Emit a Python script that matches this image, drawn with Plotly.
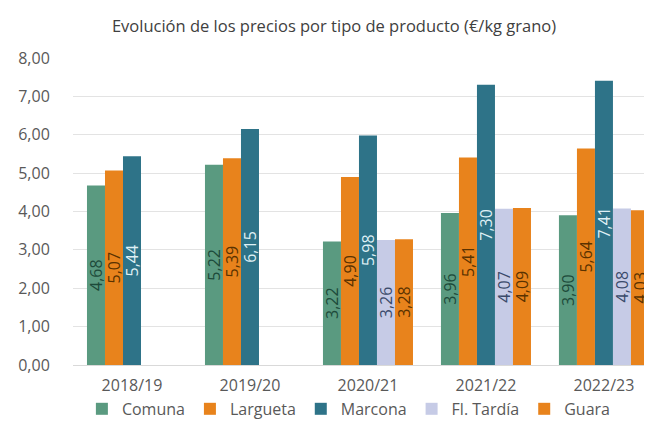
import plotly.graph_objects as go

categories = ["2018/19", "2019/20", "2020/21", "2021/22", "2022/23"]
comuna = [4.68, 5.22, 3.22, 3.96, 3.90]
largueta = [5.07, 5.39, 4.90, 5.41, 5.64]
marcona = [5.44, 6.15, 5.98, 7.30, 7.41]
fl_tardia = [None, None, 3.26, 4.07, 4.08]
guara = [None, None, 3.28, 4.09, 4.03]

series = [
    ("Comuna", comuna, "#5a9a80", "#1d4a3a"),
    ("Largueta", largueta, "#e8831c", "#5a3200"),
    ("Marcona", marcona, "#2e7388", "#dff0f5"),
    ("Fl. Tardía", fl_tardia, "#c6cbe6", "#3a4a6a"),
    ("Guara", guara, "#e8831c", "#5a3200"),
]

FONT = "Open Sans"
fig = go.Figure()
for name, vals, color, tcol in series:
    fig.add_trace(go.Bar(
        name=name, x=categories, y=vals,
        marker=dict(color=color, line=dict(width=0)),
        texttemplate="%{y:.2f}", textposition="inside",
        insidetextanchor="middle", textangle=-90,
        textfont=dict(family=FONT, size=16, color=tcol),
        constraintext="none",
    ))

fig.update_layout(
    width=652, height=428,
    margin=dict(l=65, r=0, t=50, b=71),
    paper_bgcolor="white", plot_bgcolor="white",
    separators=",.",
    barmode="group", bargap=0.237, bargroupgap=0,
    title=dict(text="Evolución de los precios por tipo de producto (€/kg grano)",
               x=0.5, xanchor="center", y=1 - 18 / 428, yanchor="middle",
               font=dict(family=FONT, size=16.5, color="#404040")),
    font=dict(family=FONT, color="#595959"),
    legend=dict(orientation="h", x=0.47, xanchor="center", y=-0.143, yanchor="middle",
                font=dict(family=FONT, size=16, color="#595959"),
                itemwidth=30, traceorder="normal", tracegroupgap=0),
    showlegend=True,
)
fig.update_xaxes(
    range=[-0.5, 4.475], showgrid=False, showline=True, linecolor="#d9d9d9", linewidth=1,
    ticks="outside", ticklen=6, tickcolor="rgba(0,0,0,0)",
    tickfont=dict(family=FONT, size=16, color="#595959"),
)
fig.update_yaxes(
    range=[0, 8], dtick=1, tickformat=".2f", showgrid=True, gridcolor="#e3e3e3", gridwidth=1,
    zeroline=False, showline=False,
    ticks="outside", ticklen=19, tickcolor="rgba(0,0,0,0)",
    tickfont=dict(family=FONT, size=16, color="#595959"),
)

fig.write_html("out.html")
